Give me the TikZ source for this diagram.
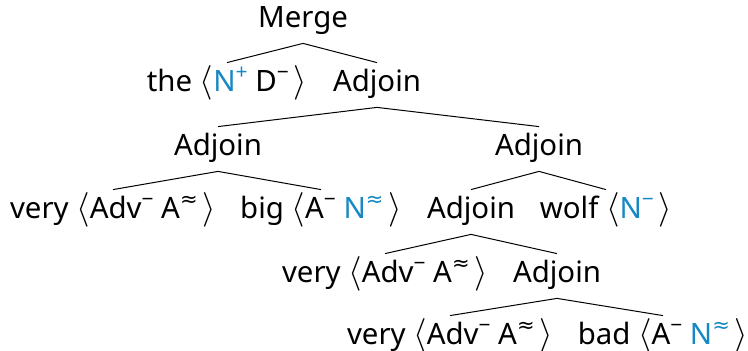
\documentclass[tikz,border=0pt]{standalone}
\usepackage{fontspec}
\setmainfont{Noto Sans}
\newfontfamily\symfont{DejaVu Sans}
\definecolor{featblue}{RGB}{22,136,196}
\newcommand{\pos}[1]{\textcolor{featblue}{#1}}
\newcommand{\fs}[2]{#1\raisebox{0.8ex}{\fontsize{10.5}{12}\selectfont #2}}
\newcommand{\adj}{{\symfont ≈}}
\newcommand{\flist}[1]{{\fontsize{17}{17}\selectfont$\langle$}#1\,{\fontsize{17}{17}\selectfont$\rangle$}}
\tikzset{
  lbl/.style={anchor=base, inner xsep=0pt, inner ysep=5pt, text height=9.5pt, text depth=2.5pt, font=\fontsize{14.7}{16}\selectfont},
  branch/.style={line width=0.5pt}
}
\begin{document}
\begin{tikzpicture}[x=0.5pt, y=-0.5pt]
    \useasboundingbox (0,0) rectangle (748,351);

    \node[lbl] (merge) at (303,28) {Merge};
    \node[lbl] (the) at (227,92) {the \flist{\fs{\pos{N}}{\pos{+}} \fs{D}{−}}};
    \node[lbl] (adjA) at (377,92) {Adjoin};
    \node[lbl] (adjB) at (218,156) {Adjoin};
    \node[lbl] (adjC) at (539,156) {Adjoin};
    \node[lbl] (very1) at (113,219) {very \flist{\fs{Adv}{−} \fs{A}{\adj}}};
    \node[lbl] (big) at (321,219) {big \flist{\fs{A}{−} \fs{\pos{N}}{\pos{\adj}}}};
    \node[lbl] (adjD) at (471,219) {Adjoin};
    \node[lbl] (wolf) at (606,219) {wolf \flist{\fs{\pos{N}}{\pos{−}}}};
    \node[lbl] (very2) at (385,283) {very \flist{\fs{Adv}{−} \fs{A}{\adj}}};
    \node[lbl] (adjE) at (557,283) {Adjoin};
    \node[lbl] (very3) at (450,345) {very \flist{\fs{Adv}{−} \fs{A}{\adj}}};
    \node[lbl] (bad) at (663,345) {bad \flist{\fs{A}{−} \fs{\pos{N}}{\pos{\adj}}}};

    \foreach \p/\c in {merge/the, merge/adjA, adjA/adjB, adjA/adjC, adjB/very1, adjB/big,
                       adjC/adjD, adjC/wolf, adjD/very2, adjD/adjE, adjE/very3, adjE/bad}
        \draw[branch] (\p.south) -- (\c.north);
\end{tikzpicture}
\end{document}
